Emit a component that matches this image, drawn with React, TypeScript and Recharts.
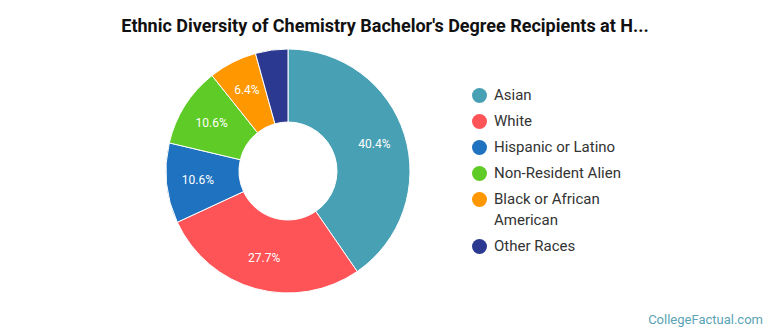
import React from 'react'
import { PieChart, Pie, Cell, Legend } from 'recharts'

const categories = ['Asian', 'White', 'Hispanic or Latino', 'Non-Resident Alien', 'Black or African American', 'Other Races']
const shares = [40.4, 27.7, 10.6, 10.6, 6.4, 4.3]
const colors = ['#48a0b4', '#fe5357', '#1f72c0', '#5fcb26', '#ff9800', '#2b3990']

const data = categories.map((name, i) => ({ name, value: shares[i] }))

const RAD = Math.PI / 180

const renderLabel = (props: any) => {
  const { cx, cy, midAngle, innerRadius, outerRadius, value } = props
  if (value < 5) return null
  const r = (innerRadius + outerRadius) / 2 + 5
  const x = cx + r * Math.cos(-midAngle * RAD)
  const y = cy + r * Math.sin(-midAngle * RAD)
  return (
    <text x={x} y={y} fill="#ffffff" fontSize={12} fontFamily="Roboto" textAnchor="middle" dominantBaseline="central">
      {value.toFixed(1)}%
    </text>
  )
}

const LegendList = () => (
  <div style={{ fontFamily: 'Roboto', fontSize: 15, color: '#333333' }}>
    {data.map((d, i) => (
      <div key={d.name} style={{ display: 'flex', alignItems: 'flex-start', marginBottom: 5 }}>
        <span
          style={{
            width: 15,
            height: 15,
            borderRadius: '50%',
            background: colors[i],
            marginTop: 3,
            marginRight: 7,
            flexShrink: 0,
          }}
        />
        <span style={{ width: 140, lineHeight: '21px' }}>{d.name}</span>
      </div>
    ))}
  </div>
)

export default function App() {
  return (
    <div style={{ position: 'absolute', left: 0, top: 0, width: 770, height: 335, background: '#fff' }}>
      <div
        style={{
          position: 'absolute',
          top: 15,
          left: 0,
          width: 770,
          textAlign: 'center',
          fontFamily: 'Roboto',
          fontWeight: 'bold',
          fontSize: 18,
          color: '#111',
        }}
      >
        Ethnic Diversity of Chemistry Bachelor's Degree Recipients at H...
      </div>
      <PieChart width={770} height={335} margin={{ top: 0, right: 0, bottom: 0, left: 0 }}>
        <Pie
          data={data}
          dataKey="value"
          nameKey="name"
          cx={288}
          cy={171}
          innerRadius={49}
          outerRadius={122}
          startAngle={90}
          endAngle={-270}
          stroke="#ffffff"
          strokeWidth={1}
          label={renderLabel}
          labelLine={false}
          isAnimationActive={false}
        >
          {data.map((d, i) => (
            <Cell key={d.name} fill={colors[i]} />
          ))}
        </Pie>
        <Legend
          layout="vertical"
          content={() => <LegendList />}
          wrapperStyle={{ position: 'absolute', left: 472, top: 85, width: 200 }}
        />
      </PieChart>
      <div
        style={{
          position: 'absolute',
          right: 7,
          top: 312,
          fontFamily: 'Roboto',
          fontSize: 13,
          color: '#5aa3b5',
        }}
      >
        CollegeFactual.com
      </div>
    </div>
  )
}
